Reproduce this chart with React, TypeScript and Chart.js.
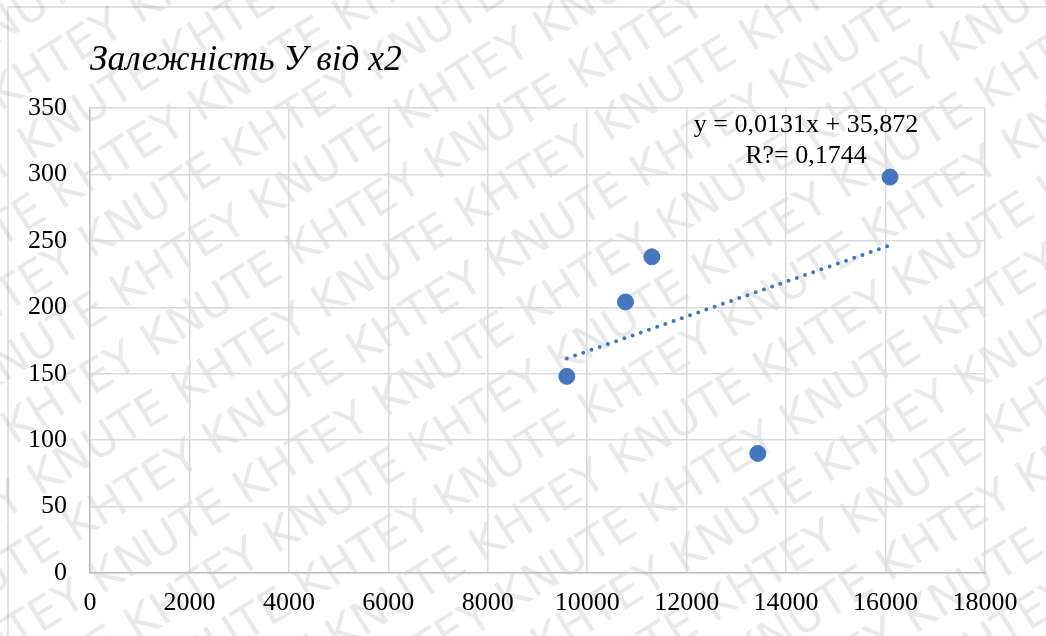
import React, { useEffect, useRef } from "react";
import { Chart, registerables } from "chart.js";

Chart.register(...registerables);

const chartTitle = "Залежність У від х2";
const xValues = [9590, 10770, 11300, 13430, 16090];
const yValues = [148, 204, 238, 90, 298];
const trendSlope = 0.0131;
const trendIntercept = 35.872;
const equationLines = ["y = 0,0131x + 35,872", "R?= 0,1744"];
const xTickValues = [0, 2000, 4000, 6000, 8000, 10000, 12000, 14000, 16000, 18000];
const yTickValues = [0, 50, 100, 150, 200, 250, 300, 350];
const watermarkText = "KHTEY KNUTE ";

const SERIF = "'Liberation Serif', 'Times New Roman', serif";
const BLUE = "#4676BE";

export default function App() {
  const canvasRef = useRef<HTMLCanvasElement | null>(null);

  useEffect(() => {
    const canvas = canvasRef.current;
    if (!canvas) return;

    const points = xValues.map((x, i) => ({ x, y: yValues[i] }));
    const xMin = Math.min(...xValues);
    const xMax = Math.max(...xValues);
    const trend = [xMin, xMax].map((x) => ({ x, y: trendSlope * x + trendIntercept }));

    const decorPlugin = {
      id: "decor",
      beforeDraw(chart: any) {
        const ctx = chart.ctx as CanvasRenderingContext2D;
        ctx.save();
        ctx.fillStyle = "#ffffff";
        ctx.fillRect(0, 0, chart.width, chart.height);
        // outer border
        ctx.strokeStyle = "#d9d9d9";
        ctx.lineWidth = 1.5;
        ctx.beginPath();
        ctx.moveTo(8, chart.height + 2);
        ctx.lineTo(8, 7);
        ctx.lineTo(chart.width + 2, 7);
        ctx.stroke();
        // watermark
        ctx.fillStyle = "rgba(0,0,0,0.085)";
        ctx.font = "46px 'DejaVu Sans', sans-serif";
        ctx.textBaseline = "middle";
        ctx.translate(chart.width / 2, chart.height / 2);
        ctx.rotate((-32 * Math.PI) / 180);
        const rowText = watermarkText.repeat(8);
        const w = ctx.measureText(rowText).width;
        for (let r = -11; r <= 11; r++) {
          const off = (((r % 2) + 2) % 2) * 170;
          ctx.fillText(rowText, -w / 2 + off, r * 58);
        }
        ctx.restore();
      },
      afterDraw(chart: any) {
        const ctx = chart.ctx as CanvasRenderingContext2D;
        const area = chart.chartArea;
        ctx.save();
        ctx.fillStyle = "#000000";
        ctx.font = `italic 35.5px ${SERIF}`;
        ctx.textAlign = "left";
        ctx.textBaseline = "alphabetic";
        ctx.fillText(chartTitle, area.left, 70);
        ctx.font = `26px ${SERIF}`;
        ctx.textAlign = "center";
        const cx = chart.scales.x.getPixelForValue(14400);
        ctx.fillText(equationLines[0], cx, 132);
        ctx.fillText(equationLines[1], cx, 163);
        ctx.restore();
      },
    };

    const chart = new Chart(canvas, {
      type: "scatter",
      data: {
        datasets: [
          {
            label: "Y",
            data: points,
            backgroundColor: BLUE,
            borderColor: BLUE,
            pointRadius: 8,
            pointHoverRadius: 8,
            order: 1,
          },
          {
            type: "line",
            label: "trend",
            data: trend,
            borderColor: BLUE,
            borderWidth: 4,
            borderDash: [0, 8.7],
            borderCapStyle: "round",
            pointRadius: 0,
            fill: false,
            order: 2,
          } as any,
        ],
      },
      options: {
        animation: false,
        responsive: false,
        maintainAspectRatio: false,
        layout: { padding: { top: 108, right: 61, left: 0, bottom: 0 } },
        plugins: {
          legend: { display: false },
          tooltip: { enabled: false },
          title: { display: false },
        },
        scales: {
          x: {
            type: "linear",
            min: 0,
            max: 18000,
            afterBuildTicks(scale: any) {
              scale.ticks = xTickValues.map((v) => ({ value: v }));
            },
            afterFit(scale: any) {
              scale.height = 63;
            },
            grid: { color: "#d9d9d9", lineWidth: 1.5, drawTicks: false },
            border: { color: "#bfbfbf", width: 1.5 },
            ticks: {
              padding: 15,
              color: "#000000",
              font: { family: SERIF, size: 26 },
              maxRotation: 0,
              callback: (v: any) => String(v),
            },
          },
          y: {
            type: "linear",
            min: 0,
            max: 350,
            afterBuildTicks(scale: any) {
              scale.ticks = yTickValues.map((v) => ({ value: v }));
            },
            afterFit(scale: any) {
              scale.width = 90;
            },
            grid: { color: "#d9d9d9", lineWidth: 1.5, drawTicks: false },
            border: { color: "#bfbfbf", width: 1.5 },
            ticks: {
              padding: 23,
              color: "#000000",
              font: { family: SERIF, size: 26 },
              callback: (v: any) => String(v),
            },
          },
        },
      },
      plugins: [decorPlugin],
    });

    return () => chart.destroy();
  }, []);

  return (
    <div style={{ position: "absolute", left: 0, top: 0, width: 1046, height: 636 }}>
      <canvas ref={canvasRef} width={1046} height={636} style={{ width: 1046, height: 636, display: "block" }} />
    </div>
  );
}
